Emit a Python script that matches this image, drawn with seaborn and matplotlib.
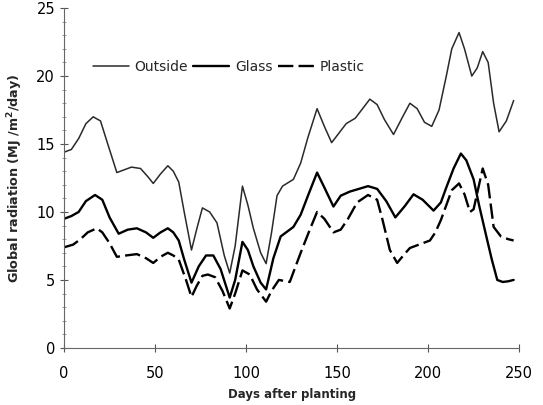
import matplotlib
matplotlib.use("Agg")
import matplotlib.pyplot as plt
import seaborn as sns
import pandas as pd
from matplotlib.ticker import MultipleLocator

# ---- data ----
days_outside = [0, 4, 8, 12, 16, 20, 24, 29, 33, 37, 42, 46, 49, 53, 57, 60, 63, 66, 70, 73,
                76, 80, 84, 88, 91, 94, 98, 101, 104, 108, 111, 114, 117, 120, 126, 130, 134,
                139, 143, 147, 151, 155, 160, 164, 168, 172, 176, 181, 186, 190, 194, 198, 202,
                206, 210, 213, 217, 220, 224, 227, 230, 233, 236, 239, 243, 247]
outside = [14.4, 14.6, 15.4, 16.5, 17.0, 16.7, 15.0, 12.9, 13.1, 13.3, 13.2, 12.6, 12.1, 12.8,
           13.4, 13.0, 12.2, 10.0, 7.2, 8.8, 10.3, 10.0, 9.2, 6.8, 5.5, 7.5, 11.9, 10.5, 8.8,
           7.0, 6.2, 8.5, 11.2, 11.9, 12.4, 13.6, 15.5, 17.6, 16.3, 15.1, 15.8, 16.5, 16.9,
           17.6, 18.3, 17.9, 16.8, 15.7, 17.0, 18.0, 17.6, 16.6, 16.3, 17.5, 20.0, 22.0, 23.2,
           22.0, 20.0, 20.6, 21.8, 21.0, 18.0, 15.9, 16.7, 18.2]

days_glass = [0, 4, 8, 12, 17, 21, 25, 30, 35, 40, 45, 49, 53, 57, 60, 63, 66, 70, 74, 78, 82,
              86, 91, 94, 98, 101, 104, 108, 111, 115, 119, 126, 130, 134, 139, 143, 148, 152,
              157, 162, 167, 172, 177, 182, 187, 192, 197, 203, 207, 210, 214, 218, 221, 225,
              228, 232, 235, 238, 241, 244, 247]
glass = [9.5, 9.7, 10.0, 10.8, 11.25, 10.9, 9.6, 8.4, 8.7, 8.8, 8.5, 8.1, 8.5, 8.8, 8.5, 7.9,
         6.5, 4.8, 6.0, 6.8, 6.8, 5.8, 3.7, 5.0, 7.8, 7.2, 6.0, 4.8, 4.3, 6.6, 8.2, 8.9, 9.8,
         11.2, 12.9, 11.8, 10.4, 11.2, 11.5, 11.7, 11.9, 11.7, 10.8, 9.6, 10.4, 11.3, 10.9,
         10.1, 10.7, 11.8, 13.2, 14.3, 13.8, 12.4, 10.5, 8.2, 6.5, 5.0, 4.85, 4.9, 5.0]

days_plastic = [0, 5, 9, 13, 18, 21, 25, 29, 34, 40, 45, 49, 53, 57, 60, 63, 67, 70, 73, 76, 79,
                83, 87, 91, 94, 98, 102, 106, 111, 114, 118, 124, 130, 135, 139, 143, 148, 152,
                156, 161, 167, 172, 175, 179, 183, 187, 190, 195, 201, 204, 207, 210, 213, 217,
                220, 223, 225, 228, 230, 233, 236, 240, 244, 247]
plastic = [7.4, 7.6, 8.0, 8.5, 8.8, 8.5, 7.7, 6.7, 6.8, 6.9, 6.6, 6.25, 6.7, 7.0, 6.8, 6.5, 5.0,
           3.75, 4.6, 5.3, 5.4, 5.2, 4.2, 2.9, 4.0, 5.7, 5.4, 4.3, 3.4, 4.2, 5.0, 4.85, 7.0, 8.7,
           10.0, 9.5, 8.5, 8.7, 9.5, 10.7, 11.25, 10.9, 9.4, 7.2, 6.25, 6.9, 7.35, 7.6, 7.9, 8.5,
           9.4, 10.5, 11.6, 12.1, 11.3, 10.0, 10.2, 12.0, 13.2, 12.0, 8.9, 8.2, 8.0, 7.9]

series_names = ["Outside", "Glass", "Plastic"]
x_ticks = [0, 50, 100, 150, 200, 250]
y_ticks = [0, 5, 10, 15, 20, 25]

# ---- plot ----
sns.set_style("ticks")
plt.rcParams["font.family"] = ["DejaVu Sans"]

fig = plt.figure(figsize=(5.43, 4.05), dpi=100)
ax = fig.add_axes([0.118, 0.141, 0.838, 0.839])

df_o = pd.DataFrame({"day": days_outside, "val": outside})
df_g = pd.DataFrame({"day": days_glass, "val": glass})
df_p = pd.DataFrame({"day": days_plastic, "val": plastic})

sns.lineplot(data=df_o, x="day", y="val", ax=ax, color="#2a2a2a", linewidth=1.1,
             label=series_names[0])
sns.lineplot(data=df_g, x="day", y="val", ax=ax, color="black", linewidth=1.7,
             label=series_names[1])
sns.lineplot(data=df_p, x="day", y="val", ax=ax, color="black", linewidth=1.7,
             label=series_names[2])
ax.lines[-1].set_dashes([6.5, 2.2])
for ln in ax.lines:
    ln.set_solid_joinstyle("round")
    ln.set_dash_joinstyle("round")

ax.set_xlim(0, 250)
ax.set_ylim(0, 25)
ax.set_xticks(x_ticks)
ax.set_yticks(y_ticks)
ax.yaxis.set_minor_locator(MultipleLocator(1))
ax.tick_params(axis="both", which="major", direction="inout", length=6, width=0.8,
               colors="#555555", labelcolor="black", labelsize=10.5)
ax.tick_params(axis="y", which="minor", direction="inout", length=2.5, width=0.6, colors="#888888")
ax.tick_params(axis="x", which="major", pad=10)

for s in ["top", "right"]:
    ax.spines[s].set_visible(False)
for s in ["left", "bottom"]:
    ax.spines[s].set_color("#666666")
    ax.spines[s].set_linewidth(0.8)

ax.set_xlabel("Days after planting", fontsize=8.5, fontweight="bold", labelpad=5)
ax.set_ylabel("Global radiation (MJ /m$^{\\mathbf{2}}$/day)", fontsize=9.2, fontweight="bold", labelpad=8)

leg = ax.legend(loc="upper left", bbox_to_anchor=(0.035, 0.885), ncol=3, frameon=False,
                fontsize=10, handlelength=2.6, handletextpad=0.4, columnspacing=0.4)

fig.savefig("out.png", dpi=100)
